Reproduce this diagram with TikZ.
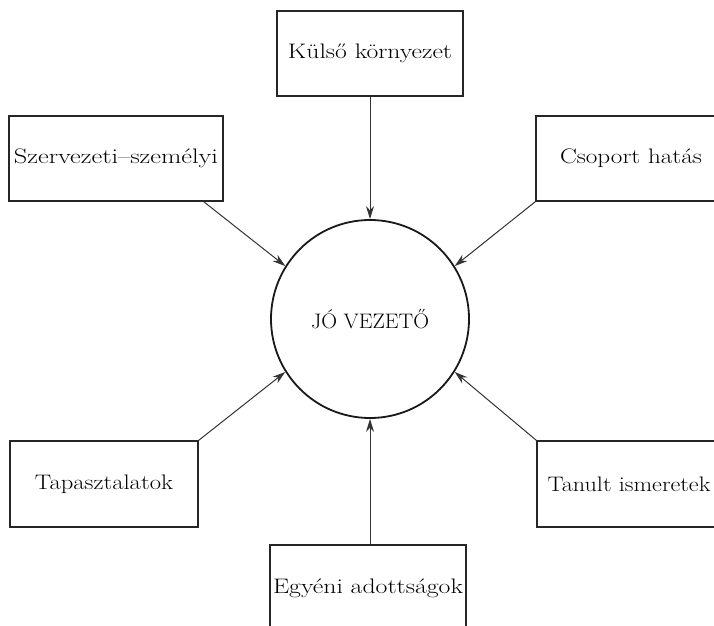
\documentclass[tikz,border=0pt]{standalone}
\usepackage{fontspec}
\usepackage{graphicx}
\usetikzlibrary{arrows.meta}
\newcommand{\fitw}[2]{\resizebox{#1}{\height}{#2}}
\begin{document}
\begin{tikzpicture}[x=1pt,y=1pt,
  lbl/.style={font=\fontsize{21}{25}\selectfont},
  box/.style={lbl, draw=black!85, line width=1.2pt, minimum height=85pt, inner sep=0pt},
  arr/.style={draw=black!80, line width=1pt, -{Stealth[length=13pt,width=8pt]}},
]
\useasboundingbox (0,0) rectangle (714,625);
\clip (0,0) rectangle (714,625);
\node[lbl, circle, draw=black!90, line width=1.8pt, minimum size=198pt, inner sep=0pt] (c) at (370,306) {\fitw{118pt}{JÓ VEZETŐ}};
\node[box, minimum width=186pt] (ku) at (370,571.5) {\fitw{164pt}{Külső környezet}};
\node[box, minimum width=214pt] (sz) at (116,466.5) {\fitw{204pt}{Szervezeti–személyi}};
\node[box, minimum width=190pt] (cs) at (631,466.5) {\fitw{142pt}{Csoport hatás}};
\node[box, minimum width=188pt, minimum height=86pt] (ta) at (104,141) {\fitw{138pt}{Tapasztalatok}};
\node[box, minimum width=192pt, minimum height=86pt] (tu) at (633,141) {};
\node[lbl] (tut) at (629,141) {\fitw{163pt}{Tanult ismeretek}};
\node[box, minimum width=196pt, minimum height=86pt] (eg) at (368,37) {\fitw{190pt}{Egyéni adottságok}};
\draw[arr] (ku.south -| c.north) -- (c.north);
\draw[arr] ([xshift=-20pt]sz.south east) -- (c.148);
\draw[arr] (cs.south west) -- (c.32);
\draw[arr] (ta.north east) -- (c.212);
\draw[arr] (tu.north west) -- (c.328);
\draw[arr] (eg.north -| c.south) -- (c.south);
\end{tikzpicture}
\end{document}
